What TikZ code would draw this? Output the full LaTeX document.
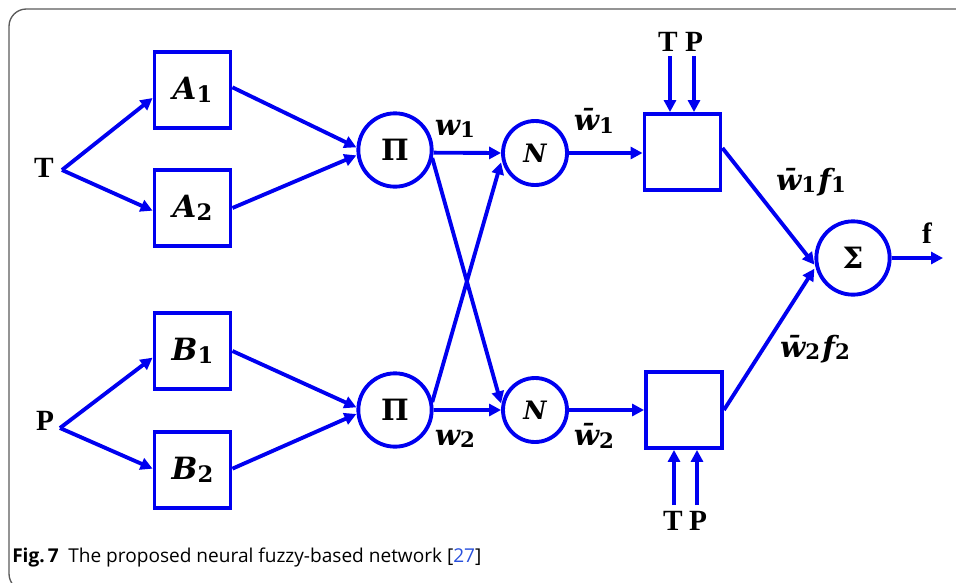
\documentclass[tikz,border=0pt]{standalone}
\usepackage{fontspec}
\newfontfamily\capfont{Open Sans}
\newfontfamily\lblfont{DejaVu Serif}
\newfontfamily\ltrfont{Liberation Serif}
\usetikzlibrary{arrows.meta}
\definecolor{netblue}{RGB}{0,0,240}
\definecolor{framegray}{RGB}{90,90,90}
\definecolor{citeblue}{RGB}{40,80,220}
% bold italic symbol with an upright bold subscript: {symbol}{subscript}{size}{subscript size}
\newcommand\symsub[4]{{\fontsize{#3}{#3}\selectfont\lblfont\bfseries\itshape #1}\raisebox{-0.45ex}{\fontsize{#4}{#4}\selectfont\lblfont\bfseries #2}}
\newcommand\barw{\={w}}
\tikzset{
  link/.style={draw=netblue,line width=2.9pt},
  arr/.style={link,-{Triangle[length=9pt,width=9pt]}},
  blockbox/.style={draw=netblue,line width=2.9pt,minimum width=57pt,minimum height=57pt,inner sep=0pt},
  neuron/.style={draw=netblue,line width=2.9pt,circle,inner sep=0pt,font=\lblfont\bfseries\fontsize{22}{23}\selectfont},
  normneuron/.style={neuron,minimum size=48pt,font=\lblfont\bfseries\itshape\fontsize{19}{20}\selectfont},
  lbl/.style={inner sep=0pt},
  bigletter/.style={inner sep=0pt,font=\ltrfont\bfseries\fontsize{22}{23}\selectfont}
}
\begin{document}
\begin{tikzpicture}[x=0.75pt,y=-0.75pt]
\useasboundingbox (0,0) rectangle (956,582);
% partial figure frame (top and left edges)
\begin{scope}
\clip (0,0) rectangle (956,582);
\draw[framegray,line width=1pt,rounded corners=13pt] (970,9) -- (9,9) -- (9,591) -- (60,591);
\end{scope}

% inputs
\node[bigletter] (tin) at (44,168) {T};
\node[bigletter] (pin) at (45,421) {P};
\coordinate (tj) at (62,170);
\coordinate (pj) at (60,428);

% membership blocks
\node[blockbox] (a1) at (192.5,90) {\symsub{A}{1}{23}{17}};
\node[blockbox] (a2) at (192.5,208) {\symsub{A}{2}{23}{17}};
\node[blockbox] (b1) at (192.5,351) {\symsub{B}{1}{23}{17}};
\node[blockbox] (b2) at (192.5,470) {\symsub{B}{2}{23}{17}};

% product and normalisation neurons
\node[neuron,minimum size=55pt] (p1) at (395,150) {Π};
\node[neuron,minimum size=55pt] (p2) at (395,410) {Π};
\node[normneuron] (n1) at (535,153) {N};
\node[normneuron] (n2) at (535,410) {N};

% consequent blocks
\node[blockbox] (c1) at (682.5,152) {};
\node[blockbox] (c2) at (684,410) {};

% summation
\node[neuron,minimum size=55pt] (sum) at (853,258) {Σ};
\coordinate (fout) at (943,258);

% input fan-out
\draw[arr] (tj) -- ([yshift=-6pt]a1.west);
\draw[arr] (tj) -- ([yshift=-2pt]a2.west);
\draw[arr] (pj) -- ([yshift=-5pt]b1.west);
\draw[arr] (pj) -- ([yshift=1pt]b2.west);

% rule layer
\draw[arr] ([yshift=2pt]a1.east) -- ([yshift=2pt]p1.west);
\draw[arr] (a2.east) -- ([yshift=-4pt]p1.west);
\draw[arr] (b1.east) -- ([yshift=2pt]p2.west);
\draw[arr] ([yshift=1pt]b2.east) -- ([yshift=-3pt]p2.west);

% normalisation layer
\draw[arr] ([yshift=-2pt]p1.east) -- (n1.west);
\draw[arr] (p2.east) -- (n2.west);
\draw[arr] ([shift={(-1pt,-6pt)}]p1.east) -- ([yshift=5pt]n2.west);
\draw[arr] ([shift={(-1pt,6pt)}]p2.east) -- ([yshift=-7pt]n1.west);

\draw[arr] (n1.east) -- (c1.west |- n1.east);
\draw[arr] (n2.east) -- (c2.west |- n2.east);

% consequent inputs
\coordinate (ct1) at (670,56);
\coordinate (cp1) at (694,56);
\coordinate (ct2) at (674,505);
\coordinate (cp2) at (697,505);
\draw[arr] (ct1) -- (ct1 |- c1.north);
\draw[arr] (cp1) -- (cp1 |- c1.north);
\draw[arr] (ct2) -- (ct2 |- c2.south);
\draw[arr] (cp2) -- (cp2 |- c2.south);
\node[bigletter] (tt) at (668,42) {T};
\node[bigletter] (pt) at (694,42) {P};
\node[bigletter] (tb) at (673,521) {T};
\node[bigletter] (pb) at (698,521) {P};

% output layer
\draw[arr] ([yshift=3pt]c1.east) -- ([yshift=-5pt]sum.west);
\draw[arr] (c2.east) -- ([yshift=-8pt]sum.west);
\draw[arr] (sum.east) -- (fout);

% signal labels
\node[lbl] (lw1) at (455,129) {\symsub{w}{1}{22}{16}};
\node[lbl] (lw2) at (455,439) {\symsub{w}{2}{22}{16}};
\node[lbl] (lb1) at (594,121) {\symsub{\barw}{1}{22}{16}};
\node[lbl] (lb2) at (594,436) {\symsub{\barw}{2}{22}{16}};
\node[lbl] (lf1) at (811,182) {\symsub{\barw}{1}{22}{16}\,\symsub{f}{1}{22}{16}};
\node[lbl] (lf2) at (815,349) {\symsub{\barw}{2}{22}{16}\,\symsub{f}{2}{22}{16}};
\node[bigletter] (lf) at (927,233) {f};

% caption
\node[anchor=west,inner sep=0pt,font=\capfont\fontsize{14.3}{16}\selectfont] (cap) at (12,557)
  {\textbf{Fig.\,7}\enspace The proposed neural fuzzy-based network [\textcolor{citeblue}{27}]};
\end{tikzpicture}
\end{document}
